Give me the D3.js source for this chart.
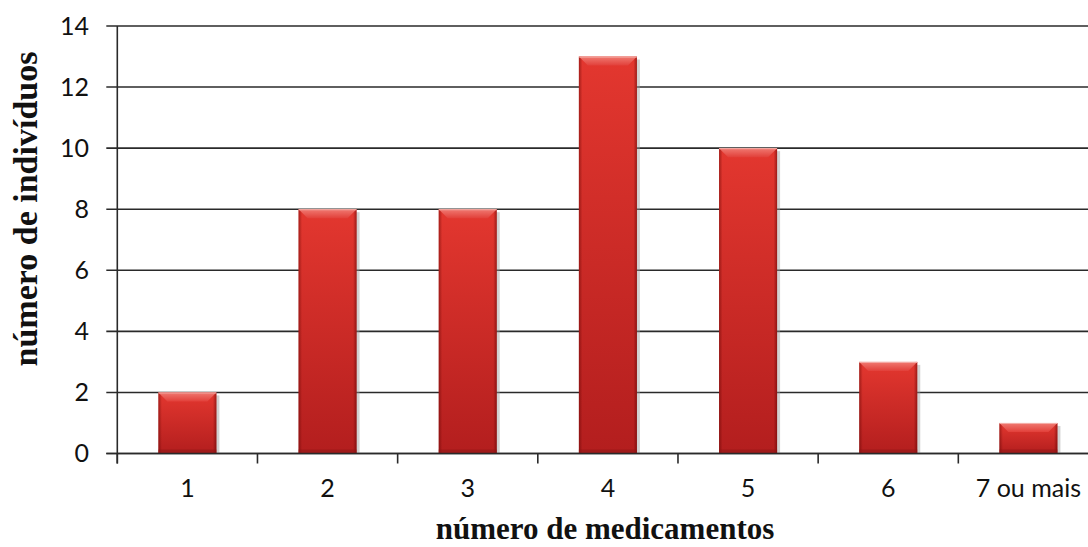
<!DOCTYPE html>
<html>
<head>
<meta charset="utf-8">
<script src="https://cdn.jsdelivr.net/npm/d3@7"></script>
<style>
html,body{margin:0;padding:0;background:#fff;overflow:hidden;}
svg{display:block;}
</style>
</head>
<body>
<svg id="chart" width="1088" height="547"></svg>
<script>
const categories = ["1","2","3","4","5","6","7 ou mais"];
const values = [2, 8, 8, 13, 10, 3, 1];
const yTicks = [0, 2, 4, 6, 8, 10, 12, 14];
const xTitle = "número de medicamentos";
const yTitle = "número de indivíduos";

(function(){
const svg = d3.select("#chart");
const pLeft = 117.3, bandW = 140.17, pRight = pLeft + bandW * categories.length;
const pTop = 26, pBottom = 453.5;

const x = d3.scaleBand().domain(categories).range([pLeft, pRight]).paddingInner(0.586).paddingOuter(0.293);
const y = d3.scaleLinear().domain([0, 14]).range([pBottom, pTop]);

const defs = svg.append("defs");
const vg = defs.append("linearGradient").attr("id","vg").attr("x1",0).attr("y1",0).attr("x2",0).attr("y2",1);
vg.append("stop").attr("offset","0%").attr("stop-color","#e3372f");
vg.append("stop").attr("offset","100%").attr("stop-color","#b31e1e");
const hg = defs.append("linearGradient").attr("id","hg").attr("x1",0).attr("y1",0).attr("x2",1).attr("y2",0);
hg.append("stop").attr("offset","0%").attr("stop-color","#5a0000").attr("stop-opacity",0.45);
hg.append("stop").attr("offset","6%").attr("stop-color","#5a0000").attr("stop-opacity",0.0);
hg.append("stop").attr("offset","94%").attr("stop-color","#5a0000").attr("stop-opacity",0.0);
hg.append("stop").attr("offset","100%").attr("stop-color","#5a0000").attr("stop-opacity",0.5);
const tg = defs.append("linearGradient").attr("id","tg").attr("x1",0).attr("y1",0).attr("x2",0).attr("y2",1);
tg.append("stop").attr("offset","0%").attr("stop-color","#f07a72");
tg.append("stop").attr("offset","100%").attr("stop-color","#e2403a");

// gridlines
svg.append("g").selectAll("line").data(yTicks).join("line")
  .attr("x1", pLeft - 11).attr("x2", 1088)
  .attr("y1", d => y(d)).attr("y2", d => y(d))
  .attr("stroke", "#2a2a2a").attr("stroke-width", 1.6);

// bars
const bars = svg.append("g").selectAll("g").data(categories.map((c,i)=>({c, v: values[i]}))).join("g");
bars.append("rect") // shadow
  .attr("x", d => x(d.c) + 3).attr("y", d => y(d.v) + 3)
  .attr("width", x.bandwidth()).attr("height", d => pBottom - y(d.v) - 3)
  .attr("fill", "#999").attr("opacity", 0.45);
bars.append("rect")
  .attr("x", d => x(d.c)).attr("y", d => y(d.v))
  .attr("width", x.bandwidth()).attr("height", d => pBottom - y(d.v))
  .attr("fill", "url(#vg)");
bars.append("rect")
  .attr("x", d => x(d.c)).attr("y", d => y(d.v))
  .attr("width", x.bandwidth()).attr("height", d => pBottom - y(d.v))
  .attr("fill", "url(#hg)");
bars.append("path") // top bevel
  .attr("d", d => {
    const x0 = x(d.c), x1 = x0 + x.bandwidth(), y0 = y(d.v), b = 9;
    return `M${x0},${y0}L${x1},${y0}L${x1-b},${y0+b}L${x0+b},${y0+b}Z`;
  })
  .attr("fill", "url(#tg)");
bars.append("line") // top highlight
  .attr("x1", d => x(d.c)).attr("x2", d => x(d.c) + x.bandwidth())
  .attr("y1", d => y(d.v) + 0.5).attr("y2", d => y(d.v) + 0.5)
  .attr("stroke", "#f4b0aa").attr("stroke-width", 1);
bars.append("rect") // bottom dark edge
  .attr("x", d => x(d.c)).attr("y", pBottom - 4)
  .attr("width", x.bandwidth()).attr("height", 4)
  .attr("fill", "#8e1515").attr("opacity", 0.5);

// x axis
svg.append("line").attr("x1", pLeft - 11).attr("x2", 1088).attr("y1", pBottom).attr("y2", pBottom)
  .attr("stroke", "#2a2a2a").attr("stroke-width", 1.6);
const xAxis = d3.axisBottom(x).tickSize(0).tickPadding(0);
const gx = svg.append("g").attr("transform", `translate(0,${pBottom})`).call(xAxis);
gx.select(".domain").remove();
gx.selectAll("text").attr("y", 43.5).attr("dy", 0)
  .attr("font-family", "Lato, 'Open Sans', sans-serif").attr("font-size", 25).attr("fill", "#111");
svg.append("g").selectAll("line").data(d3.range(categories.length + 1)).join("line")
  .attr("x1", i => pLeft + i * x.step()).attr("x2", i => pLeft + i * x.step())
  .attr("y1", pBottom).attr("y2", pBottom + 10)
  .attr("stroke", "#2a2a2a").attr("stroke-width", 1.6);

// y axis
svg.append("line").attr("x1", pLeft).attr("x2", pLeft).attr("y1", pTop).attr("y2", pBottom + 10)
  .attr("stroke", "#2a2a2a").attr("stroke-width", 1.6);
const yAxis = d3.axisLeft(y).tickValues(yTicks).tickSize(0).tickPadding(0);
const gy = svg.append("g").attr("transform", `translate(89,0)`).call(yAxis);
gy.select(".domain").remove();
gy.selectAll("text").attr("x", 0)
  .attr("font-family", "Lato, 'Open Sans', sans-serif").attr("font-size", 25).attr("fill", "#111");

// titles
svg.append("text").attr("x", 605).attr("y", 539).attr("text-anchor", "middle")
  .attr("font-family", "'Liberation Serif', 'Times New Roman', serif").attr("font-weight", "bold")
  .attr("font-size", 31).attr("fill", "#111").text(xTitle);
svg.append("text").attr("transform", "translate(37,209) rotate(-90)").attr("text-anchor", "middle")
  .attr("font-family", "'Liberation Serif', 'Times New Roman', serif").attr("font-weight", "bold")
  .attr("font-size", 34).attr("fill", "#111").text(yTitle);
})();
</script>
</body>
</html>
